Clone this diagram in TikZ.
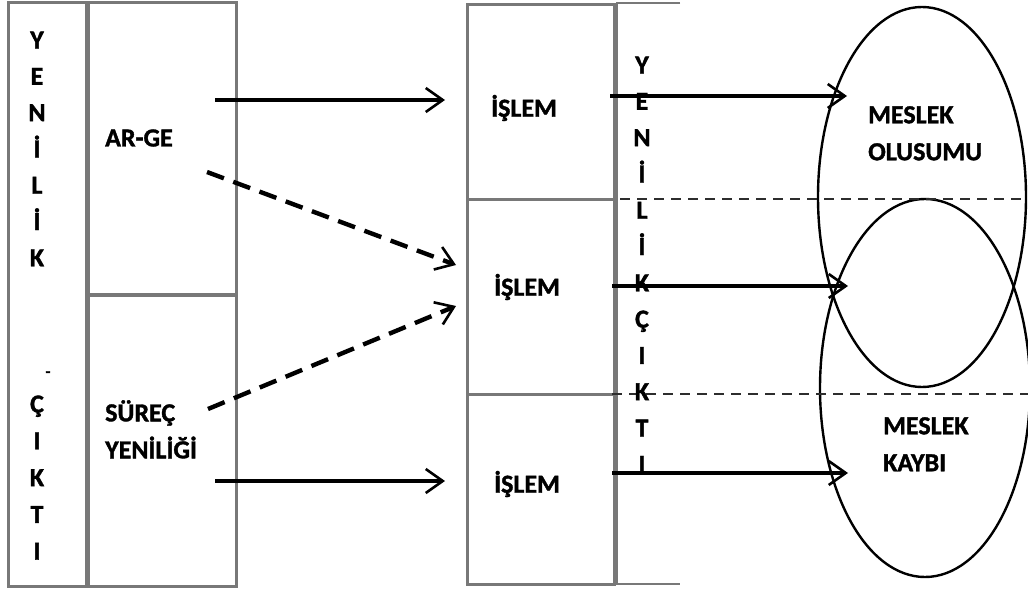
\documentclass[tikz,border=0pt]{standalone}
\usepackage{fontspec}
\setmainfont{Carlito}[BoldFont={Carlito Bold}]
\newfontfamily\headfont{Carlito Bold}[FakeBold=1.4]
\usetikzlibrary{arrows.meta,shapes.geometric}
\definecolor{boxgray}{RGB}{120,120,120}
\definecolor{dashgray}{RGB}{45,45,45}
\begin{document}
\begin{tikzpicture}[x=1pt,y=-1pt,
  frame/.style={draw=boxgray, line width=2.6pt, inner sep=0pt, anchor=north west},
  lbl/.style={font=\fontsize{26}{37}\selectfont\headfont, inner sep=0pt},
  letter/.style={font=\fontsize{26}{30}\selectfont\headfont, inner sep=0pt, anchor=base},
  flow/.style={line width=3.4pt, -{Straight Barb[length=17pt,width=24pt,line width=2.6pt]}},
  link/.style={flow, line width=4.4pt, dash pattern=on 18pt off 10pt},
  band/.style={line width=2.2pt, draw=dashgray, dash pattern=on 10pt off 7pt},
  zone/.style={ellipse, draw, line width=2.4pt, inner sep=0pt}]
\useasboundingbox (0,0) rectangle (1028,589);
\fill[white] (0,0) rectangle (1028,589);

% left: vertical title column and the two sources
\node[frame, minimum width=78pt, minimum height=584pt] (yk) at (7,1) {};
\node[frame, minimum width=148pt, minimum height=292pt] (arge) at (87,1) {};
\node[frame, minimum width=148pt, minimum height=291pt] (surec) at (87,294) {};

\foreach \l [count=\i] in {Y,E,N,İ,L,İ,K}
  \node[letter] (lk\i) at (37,{40+36.3*(\i-1)+8.5}) {\l};
\foreach \l [count=\i] in {Ç,I,K,T,I}
  \node[letter] (lc\i) at (37,{404+36.8*(\i-1)+8.5}) {\l};
\node[font=\fontsize{16}{16}\selectfont\headfont, inner sep=0pt] (hy) at (48,374) {-};

\node[lbl] (targe) at (139,138) {AR-GE};
\node[lbl, align=left, anchor=north west] (tsurec) at (105,400) {SÜREÇ\\YENİLİĞİ};

% middle: process boxes and the output column
\node[frame, minimum width=147pt, minimum height=195pt] (is1) at (466,3) {};
\node[frame, minimum width=147pt, minimum height=195pt] (is2) at (466,198) {};
\node[frame, minimum width=147pt, minimum height=190pt] (is3) at (466,393) {};
\coordinate (oc1) at (680,3);
\coordinate (oc2) at (617,3);
\coordinate (oc3) at (617,584);
\coordinate (oc4) at (680,584);
\draw[boxgray, line width=2.6pt] (oc1) -- (oc2) -- (oc3) -- (oc4);

\node[lbl] (tis1) at (524,108) {İŞLEM};
\node[lbl] (tis2) at (527,287) {İŞLEM};
\node[lbl] (tis3) at (527,484) {İŞLEM};

% right: overlapping outcome zones
\node[zone, minimum width=208pt, minimum height=380pt] (gain) at (922,197) {};
\node[zone, minimum width=210pt, minimum height=378pt] (loss) at (925,388) {};
\node[lbl, align=left, anchor=north west] (tgain) at (868,106) {MESLEK\\OLUSUMU};
\node[lbl, align=left, anchor=north west] (tloss) at (883,417) {MESLEK\\KAYBI};

% dashed band limits
\coordinate (b1s) at (620,199); \coordinate (b1e) at (1028,199);
\coordinate (b2s) at (612,394); \coordinate (b2e) at (1028,394);
\draw[band] (b1s) -- (b1e);
\draw[band] (b2s) -- (b2e);

% connectors from sources to processes
\coordinate (a1s) at (215,100); \coordinate (a1e) at (445,100);
\coordinate (d1s) at (207,172); \coordinate (d1e) at (456,265);
\coordinate (d2s) at (208,409); \coordinate (d2e) at (456,306);
\coordinate (a2s) at (215,481); \coordinate (a2e) at (445,481);
\draw[flow] (a1s) -- (a1e);
\draw[link] (d1s) -- (d1e);
\draw[link] (d2s) -- (d2e);
\draw[flow] (a2s) -- (a2e);

% output letters
\foreach \l [count=\i] in {Y,E,N,İ,L,İ,K,Ç,I,K,T,I}
  \node[letter] (ro\i) at (642,{65+36.3*(\i-1)+8.5}) {\l};

% connectors from processes to zones
\coordinate (r1s) at (610,96);  \coordinate (r1e) at (847,96);
\coordinate (r2s) at (612,286); \coordinate (r2e) at (848,286);
\coordinate (r3s) at (612,473); \coordinate (r3e) at (848,473);
\draw[flow] (r1s) -- (r1e);
\draw[flow] (r2s) -- (r2e);
\draw[flow] (r3s) -- (r3e);
\end{tikzpicture}
\end{document}
